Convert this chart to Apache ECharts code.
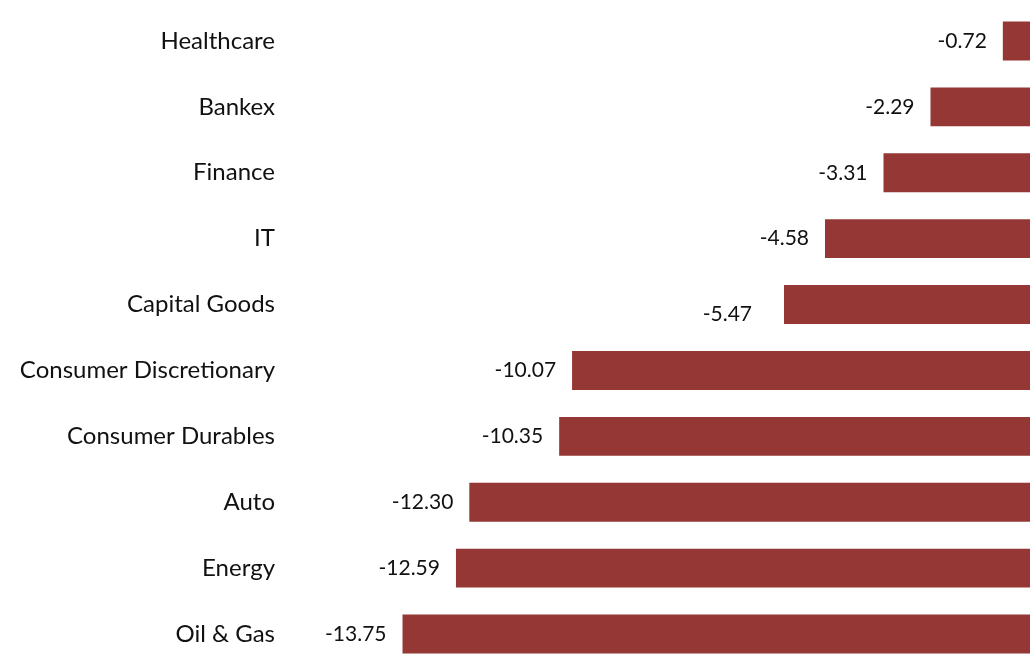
<!DOCTYPE html>
<html>
<head>
<meta charset="utf-8">
<script src="https://cdn.jsdelivr.net/npm/echarts@6/dist/echarts.min.js"></script>
<style>
  html, body { margin: 0; padding: 0; background: #fff; overflow: hidden; }
  #chart { width: 1036px; height: 667px; }
</style>
</head>
<body>
<div id="chart"></div>
<script>
// sectors, top to bottom
var sectors = ['Healthcare', 'Bankex', 'Finance', 'IT', 'Capital Goods',
  'Consumer Discretionary', 'Consumer Durables', 'Auto', 'Energy', 'Oil & Gas'];
var returns = [-0.72, -2.29, -3.31, -4.58, -5.47, -10.07, -10.35, -12.30, -12.59, -13.75];

var barColor = '#953735';
var fontName = 'Lato, "Noto Sans", sans-serif';

var chart = echarts.init(document.getElementById('chart'));

var barData = returns.map(function (v, i) {
  var item = { value: v };
  // capital goods label sits a bit lower in the original
  if (sectors[i] === 'Capital Goods') {
    item.label = { offset: [-16, 10] };
  }
  return item;
});

chart.setOption({
  animation: false,
  grid: { left: 391, right: 0, top: 8, bottom: 0, outerBoundsMode: 'none' },
  xAxis: {
    type: 'value',
    min: -14,
    max: 0,
    show: false
  },
  yAxis: {
    type: 'category',
    data: sectors,
    inverse: true,
    axisLine: { show: false },
    axisTick: { show: false },
    splitLine: { show: false },
    axisLabel: {
      margin: 116,
      color: '#111',
      fontFamily: fontName,
      fontSize: 24
    }
  },
  series: [{
    type: 'bar',
    data: barData,
    barCategoryGap: '41%',
    itemStyle: { color: barColor },
    label: {
      show: true,
      position: 'left',
      distance: 16,
      color: '#111',
      fontFamily: fontName,
      fontSize: 21,
      formatter: function (p) { return p.value.toFixed(2); }
    }
  }]
});
</script>
</body>
</html>
